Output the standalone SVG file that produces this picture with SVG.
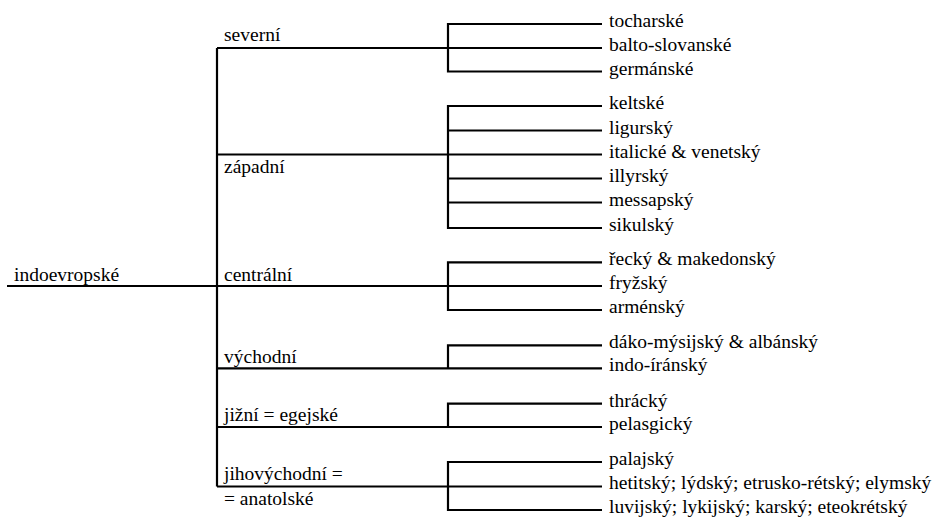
<svg xmlns="http://www.w3.org/2000/svg" width="939" height="517" viewBox="0 0 939 517">
<style>
  .c { fill: none; stroke: #000; stroke-width: 2.2; }
  .t { font-family: 'Liberation Serif', 'Times New Roman', serif; font-size: 19.5px; fill: #000; }
</style>
<rect width="939" height="517" fill="#fff"/>
<g id="connectors">
  <path class="c" d="M7,286 H602"/>
  <path class="c" d="M217,48 V486.5"/>
  <path class="c" d="M217,48 H602"/>
  <path class="c" d="M217,154.5 H602"/>
  <path class="c" d="M217,368.3 H602"/>
  <path class="c" d="M217,427 H602"/>
  <path class="c" d="M217,486.5 H602"/>
  <path class="c" d="M602,24 H448 V71.5 H602"/>
  <path class="c" d="M602,106 H448 V228 H602"/>
  <path class="c" d="M448,130.5 H602 M448,178.5 H602 M448,202.5 H602"/>
  <path class="c" d="M602,262.3 H448 V310 H602"/>
  <path class="c" d="M602,345.3 H448 V368.3"/>
  <path class="c" d="M602,403.7 H448 V427"/>
  <path class="c" d="M602,462 H448 V510 H602"/>
</g>
<g id="labels" class="t">
<g id="root"><text x="14" y="280.5">indoevropské</text></g>
<g id="severni"><text x="224" y="41">severní</text></g>
<g id="zapadni"><text x="224" y="173">západní</text></g>
<g id="centralni"><text x="224" y="280.5">centrální</text></g>
<g id="vychodni"><text x="224" y="362.5">východní</text></g>
<g id="jizni"><text x="224" y="421">jižní = egejské</text></g>
<g id="jihovychodni"><text x="224" y="480">jihovýchodní =</text><text x="224" y="505">= anatolské</text></g>
<g id="tocharske"><text x="609" y="27">tocharské</text></g>
<g id="balto"><text x="609" y="51">balto-slovanské</text></g>
<g id="germanske"><text x="609" y="74.5">germánské</text></g>
<g id="keltske"><text x="609" y="109">keltské</text></g>
<g id="ligursky"><text x="609" y="133.5">ligurský</text></g>
<g id="italicke"><text x="609" y="157.5">italické &amp; venetský</text></g>
<g id="illyrsky"><text x="609" y="181.5">illyrský</text></g>
<g id="messapsky"><text x="609" y="205.5">messapský</text></g>
<g id="sikulsky"><text x="609" y="231">sikulský</text></g>
<g id="recky"><text x="609" y="265.3">řecký &amp; makedonský</text></g>
<g id="fryzsky"><text x="609" y="289">fryžský</text></g>
<g id="armensky"><text x="609" y="313">arménský</text></g>
<g id="dako"><text x="609" y="348.3">dáko-mýsijský &amp; albánský</text></g>
<g id="indoiransky"><text x="609" y="371.3">indo-íránský</text></g>
<g id="thracky"><text x="609" y="406.7">thrácký</text></g>
<g id="pelasgicky"><text x="609" y="430">pelasgický</text></g>
<g id="palajsky"><text x="609" y="465">palajský</text></g>
<g id="hetitsky"><text x="609" y="489">hetitský; lýdský; etrusko-rétský; elymský</text></g>
<g id="luvijsky"><text x="609" y="513">luvijský; lykijský; karský; eteokrétský</text></g>
</g>
</svg>
